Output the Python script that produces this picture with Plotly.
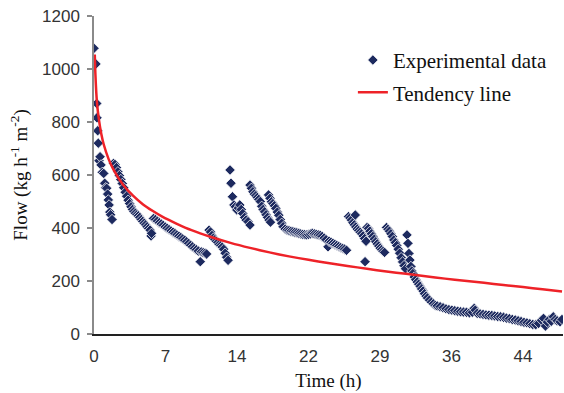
import plotly.graph_objects as go

t_a = [0.0, 0.2, 0.28, 0.3, 0.38, 0.44, 0.52, 0.62, 0.72, 0.85, 1.0, 1.1, 1.2, 1.3, 1.4, 1.47, 1.55, 1.62, 1.7, 1.85]
y_a = [1078, 1019, 870, 816, 767, 720, 654, 669, 638, 610, 606, 569, 552, 550, 528, 506, 487, 460, 450, 432]

t_b = [2.0, 2.15, 2.3, 2.45, 2.6, 2.75, 2.9, 3.05, 3.2, 3.35, 3.5, 3.65, 3.8, 3.95, 4.1, 4.25,
       4.4, 4.55, 4.7, 4.85, 5.0, 5.15, 5.3, 5.45, 5.6, 5.75, 5.85, 5.9]
y_b = [644, 640, 628, 612, 598, 583, 568, 552, 535, 520, 505, 492, 480, 470, 462, 456,
       450, 446, 440, 432, 425, 418, 412, 405, 398, 392, 370, 380]

t_c = [6.1, 6.3, 6.5, 6.7, 6.9, 7.1, 7.3, 7.5, 7.7, 7.9, 8.1, 8.3, 8.5, 8.7, 8.9, 9.1, 9.3, 9.5,
       9.7, 9.9, 10.1, 10.3, 10.5, 10.7, 10.9, 11.0, 11.2, 11.4, 11.55]
y_c = [436, 432, 426, 420, 415, 410, 404, 399, 394, 389, 384, 379, 374, 369, 364, 359, 354, 348,
       342, 335, 329, 323, 318, 313, 273, 310, 307, 305, 302]

t_d = [11.8, 11.95, 12.1, 12.25, 12.4, 12.55, 12.7, 12.85, 13.0, 13.15, 13.3, 13.45, 13.6, 13.75]
y_d = [392, 385, 372, 362, 356, 350, 345, 338, 333, 328, 320, 305, 290, 278]

t_e = [13.95, 14.05, 14.2, 14.35, 14.5, 14.65, 14.8, 14.95, 15.1, 15.25, 15.45, 15.6, 15.8, 16.0]
y_e = [619, 569, 518, 487, 480, 468, 475, 487, 470, 455, 440, 430, 424, 411]

t_f = [16.0, 16.15, 16.3, 16.45, 16.6, 16.75, 16.9, 17.05, 17.2, 17.35, 17.5, 17.65, 17.8, 17.95, 18.1]
y_f = [562, 550, 537, 528, 522, 515, 508, 500, 482, 470, 461, 450, 440, 430, 422]

t_g = [17.9, 18.05, 18.2, 18.35, 18.5, 18.65, 18.8, 18.95, 19.1, 19.25, 19.4]
y_g = [525, 512, 499, 492, 484, 474, 460, 448, 432, 418, 405]

t_h = [19.6, 19.8, 20.0, 20.2, 20.4, 20.6, 20.8, 21.0, 21.2, 21.4, 21.6, 21.8, 22.0, 22.2, 22.4,
       22.6, 22.8, 23.0, 23.2, 23.4, 23.6, 23.8, 24.0, 24.1, 24.3, 24.5, 24.7, 24.9, 25.1, 25.3,
       25.5, 25.7, 25.9]
y_h = [396, 392, 390, 388, 386, 384, 382, 380, 378, 376, 375, 374, 376, 378, 380,
       378, 376, 374, 372, 368, 362, 356, 329, 350, 346, 342, 338, 334, 330, 326,
       323, 320, 316]

t_i = [26.1, 26.25, 26.4, 26.55, 26.7, 26.8, 26.85, 27.0, 27.15, 27.3, 27.45, 27.6, 27.75, 27.8, 27.9]
y_i = [443, 438, 430, 420, 412, 449, 404, 396, 390, 384, 378, 370, 360, 273, 350]

t_j = [28.0, 28.15, 28.3, 28.45, 28.6, 28.75, 28.9, 29.05, 29.2, 29.35, 29.5, 29.65, 29.8]
y_j = [402, 398, 388, 378, 368, 358, 348, 340, 332, 324, 318, 312, 308]

t_k = [30.0, 30.15, 30.3, 30.45, 30.6, 30.75, 30.9, 31.05, 31.2, 31.35, 31.5, 31.65, 31.8, 31.95]
y_k = [402, 395, 388, 378, 368, 355, 345, 334, 320, 305, 288, 272, 258, 246]

t_l = [32.1, 32.2, 32.3, 32.4, 32.5, 32.6, 32.7, 32.85, 33.0, 33.15, 33.3, 33.45, 33.6, 33.75,
       33.9, 34.05, 34.2, 34.4, 34.6, 34.8, 35.0]
y_l = [374, 342, 304, 279, 255, 238, 228, 215, 205, 196, 188, 180, 170, 162,
       152, 143, 136, 128, 120, 114, 108]

t_m = [35.2, 35.5, 35.8, 36.1, 36.4, 36.7, 37.0, 37.3, 37.6, 37.9, 38.2, 38.5, 38.8, 39.0, 39.1,
       39.3, 39.6, 39.9, 40.2, 40.5, 40.8, 41.1, 41.4, 41.7, 42.0, 42.3, 42.6, 42.9, 43.2, 43.5,
       43.8, 44.1, 44.4, 44.7, 45.0, 45.3, 45.6, 45.9, 46.1, 46.3, 46.5, 46.7, 46.9, 47.1, 47.3,
       47.5, 47.8, 48.0]
y_m = [106, 103, 99, 95, 92, 90, 88, 86, 84, 83, 82, 80, 82, 97, 90,
       78, 76, 74, 72, 71, 70, 68, 66, 65, 63, 60, 58, 55, 53, 50,
       47, 44, 42, 39, 36, 35, 40, 52, 59, 30, 45, 55, 48, 65, 55,
       50, 46, 55]

exp_time = t_a + t_b + t_c + t_d + t_e + t_f + t_g + t_h + t_i + t_j + t_k + t_l + t_m
exp_flow = y_a + y_b + y_c + y_d + y_e + y_f + y_g + y_h + y_i + y_j + y_k + y_l + y_m

# ---- Tendency line ----
trend_time = [0.08, 0.15, 0.3, 0.5, 0.75, 1.0, 1.5, 2, 3, 4, 5, 6, 7, 8.5, 10, 12, 14, 16, 18,
              20, 22, 24, 26, 28, 30, 32, 34, 36, 38, 40, 42, 44, 46, 48]
trend_flow = [1055, 975, 875, 810, 755, 715, 660, 620, 562, 522, 490, 465, 443, 416, 392, 366,
              344, 325, 308, 293, 280, 268, 257, 246, 236, 227, 218, 209, 201, 193, 185, 177, 169, 160]

# ---- Axis ticks ----
x_tickvals = [0, 22 / 3, 44 / 3, 22, 88 / 3, 110 / 3, 44]
x_ticktext = ["0", "7", "14", "22", "29", "36", "44"]
y_tickvals = [0, 200, 400, 600, 800, 1000, 1200]

fig = go.Figure()
fig.add_trace(go.Scatter(
    x=exp_time, y=exp_flow, mode="markers", name="Experimental data",
    marker=dict(symbol="diamond", size=8, color="#1d2a5f",
                line=dict(color="rgba(255,255,255,0.75)", width=1)),
    legendgroup="a",
))
fig.add_trace(go.Scatter(
    x=trend_time, y=trend_flow, mode="lines", name="Tendency line",
    line=dict(color="#ee2228", width=2.5, shape="spline", smoothing=0.6),
    legendgroup="b",
))

tick_font = dict(family="Liberation Sans, Arial, sans-serif", size=17, color="#333333")
serif = "Liberation Serif, Times New Roman, serif"

fig.update_layout(
    width=564, height=393, autosize=False,
    margin=dict(l=94, r=1, t=16, b=59),
    paper_bgcolor="white", plot_bgcolor="white",
    showlegend=True,
    legend=dict(x=0.552, y=0.925, xanchor="left", yanchor="top",
                font=dict(family=serif, size=21, color="#111111"),
                bgcolor="rgba(0,0,0,0)", tracegroupgap=2),
    xaxis=dict(range=[0, 48.1], tickvals=x_tickvals, ticktext=x_ticktext,
               showline=True, linecolor="#222222", linewidth=2,
               ticks="", showgrid=False, zeroline=False, automargin=False,
               tickfont=tick_font, ticklabelstandoff=6,
               title=dict(text="Time (h)", font=dict(family=serif, size=19, color="#111111"),
                          standoff=8)),
    yaxis=dict(range=[0, 1200], tickvals=y_tickvals,
               showline=True, linecolor="#8a8a8a", linewidth=1.5,
               ticks="outside", ticklen=5, tickcolor="#8a8a8a", tickwidth=1.5,
               showgrid=False, zeroline=False, automargin=False,
               tickfont=tick_font, ticklabelstandoff=4,
               title=dict(text="Flow (kg h<sup>-1</sup> m<sup>-2</sup>)",
                          font=dict(family=serif, size=19, color="#111111"), standoff=9)),
)

fig.write_html("out.html", config={"responsive": False, "displayModeBar": False},
               post_script="document.body.style.margin='0';document.body.style.overflow='hidden';")
